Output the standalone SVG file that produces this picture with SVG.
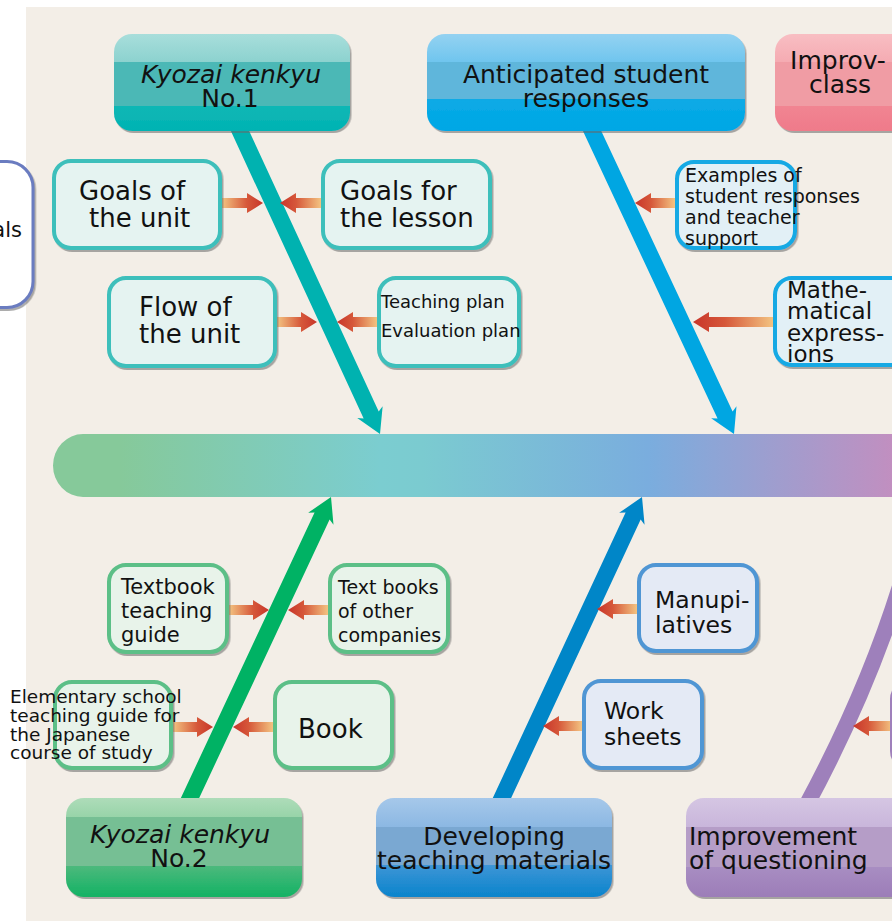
<svg xmlns="http://www.w3.org/2000/svg" width="892" height="921" viewBox="0 0 892 921">
<defs>
<style>
text{font-family:"DejaVu Sans","Liberation Sans",sans-serif;fill:#111;}
.it{font-style:italic;}
.big{font-size:25px;}
.sb{stroke-width:4;}
.teal{fill:#e5f3f1;stroke:#3cbfbb;}
.blu{fill:#e2f0f6;stroke:#12a9e4;}
.grn{fill:#e8f3ea;stroke:#5cbf87;}
.dbl{fill:#e4eaf5;stroke:#5096d4;}
.pur{fill:#ece6f2;stroke:#9f80bb;}
</style>
<filter id="ds" x="-10%" y="-10%" width="130%" height="130%"><feDropShadow dx="1.5" dy="2" stdDeviation="0.7" flood-color="#666" flood-opacity="0.55"/></filter>
<linearGradient id="spine" gradientUnits="userSpaceOnUse" x1="53" y1="0" x2="892" y2="0">
<stop offset="0" stop-color="#86c99a"/><stop offset="0.08" stop-color="#86c99a"/><stop offset="0.39" stop-color="#7bcdd0"/><stop offset="0.44" stop-color="#7bcbd0"/><stop offset="0.71" stop-color="#7aadde"/><stop offset="1" stop-color="#c18fc0"/>
</linearGradient>
<linearGradient id="gR" x1="0" y1="0" x2="1" y2="0"><stop offset="0" stop-color="#f3c381"/><stop offset="0.6" stop-color="#d6583a"/><stop offset="1" stop-color="#c8352a"/></linearGradient>
<linearGradient id="gL" x1="1" y1="0" x2="0" y2="0"><stop offset="0" stop-color="#f3c381"/><stop offset="0.6" stop-color="#d6583a"/><stop offset="1" stop-color="#c8352a"/></linearGradient>
<linearGradient id="gK1" x1="0" y1="0" x2="0" y2="1"><stop offset="0" stop-color="#a8dedb"/><stop offset="0.29" stop-color="#8cd2cf"/><stop offset="0.29" stop-color="#4bb8b6"/><stop offset="0.74" stop-color="#4bb8b6"/><stop offset="0.74" stop-color="#10b7b5"/><stop offset="1" stop-color="#00b3b3"/></linearGradient>
<linearGradient id="gAn" x1="0" y1="0" x2="0" y2="1"><stop offset="0" stop-color="#94d2f1"/><stop offset="0.29" stop-color="#6fc5ee"/><stop offset="0.29" stop-color="#5fb6db"/><stop offset="0.67" stop-color="#5fb6db"/><stop offset="0.67" stop-color="#0aaae6"/><stop offset="1" stop-color="#00a7e5"/></linearGradient>
<linearGradient id="gPk" x1="0" y1="0" x2="0" y2="1"><stop offset="0" stop-color="#f8bec3"/><stop offset="0.29" stop-color="#f5abb2"/><stop offset="0.29" stop-color="#f09ca4"/><stop offset="0.74" stop-color="#f09ca4"/><stop offset="0.74" stop-color="#f18592"/><stop offset="1" stop-color="#ef7a8a"/></linearGradient>
<linearGradient id="gK2" x1="0" y1="0" x2="0" y2="1"><stop offset="0" stop-color="#aedcb9"/><stop offset="0.19" stop-color="#98d4a9"/><stop offset="0.19" stop-color="#76bf94"/><stop offset="0.69" stop-color="#76bf94"/><stop offset="0.69" stop-color="#4cb97c"/><stop offset="1" stop-color="#12b264"/></linearGradient>
<linearGradient id="gDv" x1="0" y1="0" x2="0" y2="1"><stop offset="0" stop-color="#a6c8ea"/><stop offset="0.29" stop-color="#8cb8e3"/><stop offset="0.29" stop-color="#7aa8d2"/><stop offset="0.68" stop-color="#7aa8d2"/><stop offset="0.68" stop-color="#3d95d6"/><stop offset="1" stop-color="#0a84cc"/></linearGradient>
<linearGradient id="gIm" x1="0" y1="0" x2="0" y2="1"><stop offset="0" stop-color="#d5c6e3"/><stop offset="0.29" stop-color="#c9b6db"/><stop offset="0.29" stop-color="#b59dc7"/><stop offset="0.7" stop-color="#b59dc7"/><stop offset="0.7" stop-color="#a88dc2"/><stop offset="1" stop-color="#9c7db8"/></linearGradient>
<polygon id="bigArrow" points="0,0 -24,-14 -21,-8.3 -345,-8.3 -345,8.3 -21,8.3 -24,14"/>
<polygon id="smR" points="0,-5 -16,-5 -17,-10 0,0 -17,10 -16,5"/>
</defs>

<rect x="0" y="0" width="892" height="921" fill="#ffffff"/>
<rect x="26" y="7" width="866" height="914" fill="#f3eee7"/>

<g id="spine">
<path d="M83 434 H892 V497 H83 A30 31.5 0 0 1 83 434 Z" fill="url(#spine)"/>
</g>

<g id="connectors">
<use href="#bigArrow" transform="translate(380,434) rotate(65.2)" fill="#00b2b0"/>
<use href="#bigArrow" transform="translate(734,434) rotate(64.9)" fill="#00a6e2"/>
<use href="#bigArrow" transform="translate(331,497) rotate(-64.9)" fill="#00b264"/>
<use href="#bigArrow" transform="translate(642,497) rotate(-65.05)" fill="#0086c8"/>
<path d="M806 806 Q868 691 902 580" fill="none" stroke="#9e80bb" stroke-width="16"/>

<polygon points="222,198 247,198 247,193 263,203 247,213 247,208 222,208" fill="url(#gR)"/>
<polygon points="321,198 296,198 296,193 280,203 296,213 296,208 321,208" fill="url(#gL)"/>
<polygon points="277,317 301,317 301,312 317,322 301,332 301,327 277,327" fill="url(#gR)"/>
<polygon points="377,317 353,317 353,312 337,322 353,332 353,327 377,327" fill="url(#gL)"/>
<polygon points="675,198 651,198 651,193 635,203 651,213 651,208 675,208" fill="url(#gL)"/>
<polygon points="773,317 709,317 709,312 693,322 709,332 709,327 773,327" fill="url(#gL)"/>
<polygon points="229,605 253,605 253,600 269,610 253,620 253,615 229,615" fill="url(#gR)"/>
<polygon points="328,605 304,605 304,600 288,610 304,620 304,615 328,615" fill="url(#gL)"/>
<polygon points="173,722 197,722 197,717 213,727 197,737 197,732 173,732" fill="url(#gR)"/>
<polygon points="273,722 249,722 249,717 233,727 249,737 249,732 273,732" fill="url(#gL)"/>
<polygon points="637,604 613,604 613,599 597,609 613,619 613,614 637,614" fill="url(#gL)"/>
<polygon points="582,721 559,721 559,716 543,726 559,736 559,731 582,731" fill="url(#gL)"/>
<polygon points="892,721 869,721 869,716 853,726 869,736 869,731 892,731" fill="url(#gL)"/>
</g>

<g id="goals-partial">
<rect x="-30" y="161.5" width="63" height="146" rx="26" fill="#ffffff" stroke="#6b7cc0" stroke-width="3" filter="url(#ds)"/>
<text x="22" y="237" font-size="21" text-anchor="end">als</text>
</g>

<g id="kyozai1">
<rect x="114" y="34" width="236" height="97" rx="18" fill="url(#gK1)" filter="url(#ds)"/>
<text x="231" y="83" class="big it" text-anchor="middle">Kyozai kenkyu</text>
<text x="230" y="107" class="big" text-anchor="middle">No.1</text>
</g>

<g id="anticipated">
<rect x="427" y="34" width="318" height="97" rx="18" fill="url(#gAn)" filter="url(#ds)"/>
<text x="586" y="83" class="big" text-anchor="middle">Anticipated student</text>
<text x="586" y="107" class="big" text-anchor="middle">responses</text>
</g>

<g id="improv-class">
<rect x="775" y="34" width="240" height="97" rx="18" fill="url(#gPk)" filter="url(#ds)"/>
<text x="838" y="69" class="big" text-anchor="middle">Improv-</text>
<text x="840" y="93" class="big" text-anchor="middle">class</text>
</g>

<g id="goals-unit">
<rect x="54" y="161" width="166" height="87" rx="17" class="teal sb" filter="url(#ds)"/>
<text x="79" y="200" font-size="26">Goals of</text>
<text x="89" y="227" font-size="26">the unit</text>
</g>

<g id="goals-lesson">
<rect x="323" y="161" width="167" height="87" rx="17" class="teal sb" filter="url(#ds)"/>
<text x="340" y="200" font-size="26">Goals for</text>
<text x="340" y="227" font-size="26">the lesson</text>
</g>

<g id="flow-unit">
<rect x="109" y="278" width="166" height="88" rx="17" class="teal sb" filter="url(#ds)"/>
<text x="139" y="316" font-size="26">Flow of</text>
<text x="139" y="343" font-size="26">the unit</text>
</g>

<g id="teaching-plan">
<rect x="379" y="278" width="140" height="88" rx="17" class="teal sb" filter="url(#ds)"/>
<text x="381" y="308" font-size="18">Teaching plan</text>
<text x="381" y="337" font-size="18">Evaluation plan</text>
</g>

<g id="examples">
<rect x="677" y="162" width="118" height="86" rx="17" class="blu sb" filter="url(#ds)"/>
<text x="685" y="182" font-size="19">Examples of</text>
<text x="685" y="203" font-size="19">student responses</text>
<text x="685" y="224" font-size="19">and teacher</text>
<text x="685" y="245" font-size="19">support</text>
</g>

<g id="math-expressions">
<rect x="775" y="278" width="140" height="87" rx="17" class="blu sb" filter="url(#ds)"/>
<text x="787" y="298" font-size="23">Mathe-</text>
<text x="787" y="319" font-size="23">matical</text>
<text x="787" y="341" font-size="23">express-</text>
<text x="787" y="362" font-size="23">ions</text>
</g>

<g id="textbook-guide">
<rect x="109" y="565" width="118" height="87" rx="17" class="grn sb" filter="url(#ds)"/>
<text x="121" y="594" font-size="21">Textbook</text>
<text x="121" y="618" font-size="21">teaching</text>
<text x="121" y="642" font-size="21">guide</text>
</g>

<g id="other-textbooks">
<rect x="330" y="565" width="118" height="87" rx="17" class="grn sb" filter="url(#ds)"/>
<text x="338" y="594" font-size="19">Text books</text>
<text x="338" y="618" font-size="19">of other</text>
<text x="338" y="642" font-size="19">companies</text>
</g>

<g id="elementary-guide">
<rect x="55" y="682" width="116" height="86" rx="17" class="grn sb" filter="url(#ds)"/>
<text x="10" y="703" font-size="18.5">Elementary school</text>
<text x="10" y="722" font-size="18.5">teaching guide for</text>
<text x="10" y="741" font-size="18.5">the Japanese</text>
<text x="10" y="759" font-size="18.5">course of study</text>
</g>

<g id="book">
<rect x="275" y="682" width="117" height="86" rx="17" class="grn sb" filter="url(#ds)"/>
<text x="298" y="738" font-size="26">Book</text>
</g>

<g id="manipulatives">
<rect x="639" y="565" width="118" height="86" rx="17" class="dbl sb" filter="url(#ds)"/>
<text x="655" y="608" font-size="23.5">Manupi-</text>
<text x="655" y="633" font-size="23.5">latives</text>
</g>

<g id="worksheets">
<rect x="584" y="681" width="118" height="87" rx="17" class="dbl sb" filter="url(#ds)"/>
<text x="604" y="719" font-size="23.5">Work</text>
<text x="604" y="745" font-size="23.5">sheets</text>
</g>

<g id="purple-partial">
<rect x="892" y="682" width="118" height="86" rx="17" class="pur sb"/>
</g>

<g id="kyozai2">
<rect x="66" y="798" width="236" height="99" rx="18" fill="url(#gK2)" filter="url(#ds)"/>
<text x="180" y="843" class="big it" text-anchor="middle">Kyozai kenkyu</text>
<text x="179" y="867" class="big" text-anchor="middle">No.2</text>
</g>

<g id="developing">
<rect x="376" y="798" width="236" height="99" rx="18" fill="url(#gDv)" filter="url(#ds)"/>
<text x="494" y="845" class="big" text-anchor="middle">Developing</text>
<text x="494" y="869" class="big" text-anchor="middle">teaching materials</text>
</g>

<g id="improvement-questioning">
<rect x="686" y="798" width="236" height="99" rx="18" fill="url(#gIm)" filter="url(#ds)"/>
<text x="689" y="845" class="big">Improvement</text>
<text x="689" y="869" class="big">of questioning</text>
</g>
</svg>
